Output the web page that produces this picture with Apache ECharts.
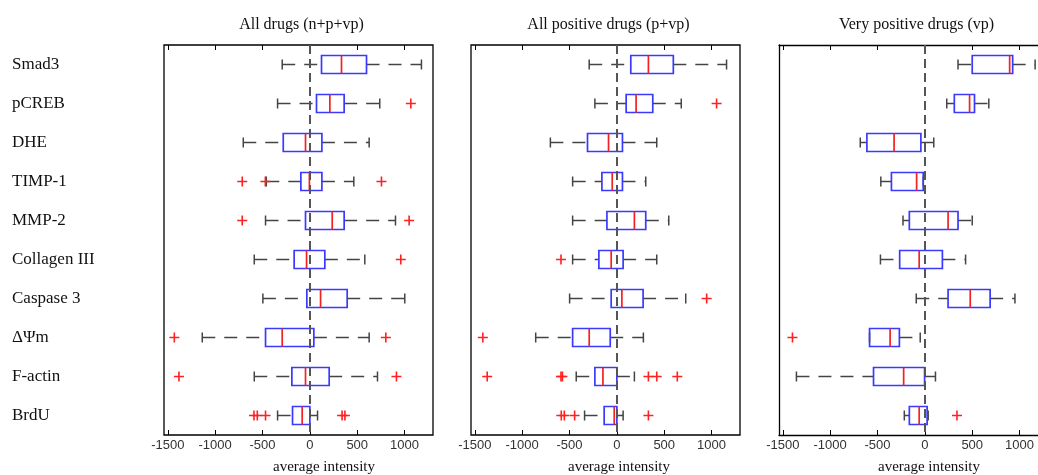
<!DOCTYPE html>
<html>
<head>
<meta charset="utf-8">
<script src="https://cdn.jsdelivr.net/npm/echarts@6/dist/echarts.min.js"></script>
<style>
html,body{margin:0;padding:0;background:#fff;}
#c{width:1038px;height:475px;}
</style>
</head>
<body>
<div id="c"></div>
<script>
// ---- data ----
const categories = ['Smad3','pCREB','DHE','TIMP-1','MMP-2','Collagen III','Caspase 3','ΔΨm','F-actin','BrdU'];
const panelTitles = ['All drugs (n+p+vp)','All positive drugs (p+vp)','Very positive drugs (vp)'];
const xTickValues = [-1500,-1000,-500,0,500,1000];
const xAxisName = 'average intensity';

// [lower whisker, Q1, median, Q3, upper whisker]
const statsAll = [
  [-292,123,334,598,1178],
  [-341,70,211,362,738],
  [-703,-281,-46,127,626],
  [-460,-95,-5,127,464],
  [-468,-46,236,362,904],
  [-587,-166,-35,158,580],
  [-496,-32,113,394,1002],
  [-1136,-468,-292,42,626],
  [-587,-190,-46,204,714],
  [-341,-183,-81,0,81]
];
const outliersAll = [
  ['pCREB',1066],['TIMP-1',-714],['TIMP-1',-470],['TIMP-1',756],
  ['MMP-2',-714],['MMP-2',1048],['Collagen III',960],
  ['ΔΨm',-1431],['ΔΨm',802],['F-actin',-1382],['F-actin',914],
  ['BrdU',-590],['BrdU',-555],['BrdU',-468],['BrdU',340],['BrdU',370]
];

const statsPos = [
  [-292,147,333,596,1158],
  [-232,98,203,379,680],
  [-702,-310,-88,59,421],
  [-467,-158,-49,59,305],
  [-467,-105,185,305,548],
  [-467,-190,-60,66,421],
  [-499,-60,53,277,727],
  [-857,-467,-292,-70,280],
  [-429,-232,-147,0,185],
  [-341,-134,-28,0,66]
];
const outliersPos = [
  ['pCREB',1053],['Collagen III',-590],['Caspase 3',948],['ΔΨm',-1415],
  ['F-actin',-1369],['F-actin',-590],['F-actin',-575],['F-actin',333],['F-actin',421],['F-actin',638],
  ['BrdU',-587],['BrdU',-555],['BrdU',-446],['BrdU',333]
];

const statsVeryPos = [
  [350,500,895,927,1164],
  [231,311,472,524,675],
  [-682,-612,-325,-42,94],
  [-465,-353,-87,-17,-17],
  [-231,-164,245,350,500],
  [-469,-266,-60,185,430],
  [-91,245,479,689,951],
  [-584,-584,-367,-269,-49],
  [-1356,-542,-224,-3,112],
  [-217,-164,-60,24,35]
];
const outliersVeryPos = [
  ['ΔΨm',-1398],['BrdU',339]
];

// ---- chart ----
const panels = [
  {stats: statsAll, outliers: outliersAll},
  {stats: statsPos, outliers: outliersPos},
  {stats: statsVeryPos, outliers: outliersVeryPos}
];
const gridLefts = [164, 471, 779];
const gridW = 269, gridTop = 45, gridH = 390;
const xMin = -1540, xMax = 1300;
// third panel is cut by the right edge of the picture: keep same scale, shorter visible range
const gridWidths = [gridW, gridW, 1038 - gridLefts[2]];
const xMaxes = gridWidths.map(w => xMin + (xMax - xMin) * w / gridW);

const BOX = '#3a3aff', MED = '#f22222', WHISK = '#444', OUT = '#ff2020';
const plusPath = 'path://M4.2,0H5.8V4.2H10V5.8H5.8V10H4.2V5.8H0V4.2H4.2Z';

function renderBox(params, api) {
  const cat = api.value(0);
  const wl = api.value(1), q1 = api.value(2), md = api.value(3), q3 = api.value(4), wh = api.value(5);
  const y = api.coord([0, cat])[1];
  const X = v => api.coord([v, cat])[0];
  const h = 9, ch = 5;
  const wStyle = {stroke: WHISK, lineWidth: 1.5, lineDash: [13, 9], fill: null};
  const cStyle = {stroke: WHISK, lineWidth: 1.5, fill: null};
  const children = [];
  if (X(q1) - X(wl) > 0.5) children.push({type:'line', shape:{x1:X(wl), y1:y, x2:X(q1), y2:y}, style: wStyle});
  if (X(wh) - X(q3) > 0.5) children.push({type:'line', shape:{x1:X(q3), y1:y, x2:X(wh), y2:y}, style: wStyle});
  children.push({type:'line', shape:{x1:X(wl), y1:y-ch, x2:X(wl), y2:y+ch}, style: cStyle});
  children.push({type:'line', shape:{x1:X(wh), y1:y-ch, x2:X(wh), y2:y+ch}, style: cStyle});
  children.push({type:'rect', shape:{x:X(q1), y:y-h, width:X(q3)-X(q1), height:2*h}, style:{stroke: BOX, lineWidth: 1.7, fill: null}});
  children.push({type:'line', shape:{x1:X(md), y1:y-h, x2:X(md), y2:y+h}, style:{stroke: MED, lineWidth: 1.7}});
  return {type:'group', children};
}

const frameLine = {show:true, onZero:false, lineStyle:{color:'#000', width:1.3}};
const grid = [], xAxis = [], yAxis = [], series = [], graphic = [];
panels.forEach((p, i) => {
  const last = i === 2;
  grid.push({left: gridLefts[i], top: gridTop, width: gridWidths[i], height: gridH,
    show: !last, borderColor: '#000', borderWidth: 1.3, backgroundColor: 'transparent', containLabel: false});
  xAxis.push({type:'value', gridIndex:i, min:xMin, max:xMaxes[i], position:'bottom',
    splitLine:{show:false}, axisLine: last ? frameLine : {show:false},
    axisTick:{show:true, inside:true, length:5, customValues: xTickValues, lineStyle:{color:'#000', width:1}},
    axisLabel:{show:true, customValues: xTickValues, formatter: v => String(v), margin:4, color:'#333',
      fontFamily:'Liberation Sans', fontSize:13}});
  xAxis.push({type:'value', gridIndex:i, min:xMin, max:xMaxes[i], position:'top',
    splitLine:{show:false}, axisLine: last ? frameLine : {show:false},
    axisTick:{show:true, inside:true, length:5, customValues: xTickValues, lineStyle:{color:'#000', width:1}},
    axisLabel:{show:false}});
  yAxis.push({type:'category', gridIndex:i, data: categories, inverse: true,
    axisLine: last ? frameLine : {show:false}, axisTick:{show:false}, splitLine:{show:false},
    axisLabel: i === 0 ? {show:true, align:'left', margin: gridLefts[0]-12, color:'#111',
      fontFamily:'Liberation Serif', fontSize:17} : {show:false}});
  series.push({type:'custom', xAxisIndex: 2*i, yAxisIndex: i,
    data: p.stats.map((s, k) => [k, ...s]),
    encode: {x:[1,2,3,4,5], y:0},
    renderItem: renderBox, z: 3, silent: true});
  series.push({type:'scatter', xAxisIndex: 2*i, yAxisIndex: i,
    data: p.outliers.map(o => [o[1], o[0]]),
    symbol: plusPath, symbolSize: 10, itemStyle:{color: OUT, opacity: 1}, z: 4, silent: true,
    markLine: {symbol:'none', silent:true, label:{show:false},
      lineStyle:{type:[9,5], color:'#555', width:2},
      emphasis:{disabled:true},
      data:[{xAxis:0}]}});
  graphic.push({type:'text', x: gridLefts[i] + gridW/2 + 3, y: 25,
    style:{text: panelTitles[i], font:'16px "Liberation Serif"', fill:'#111', align:'center', verticalAlign:'middle'}});
});
// x-axis names (centred slightly right of zero, as in reference)
[324, 619, 929].forEach(cx => {
  graphic.push({type:'text', x: cx, y: 467,
    style:{text: xAxisName, font:'15px "Liberation Serif"', fill:'#111', align:'center', verticalAlign:'middle'}});
});

const chart = echarts.init(document.getElementById('c'), null, {renderer:'canvas'});
chart.setOption({animation:false, grid, xAxis, yAxis, series, graphic});
</script>
</body>
</html>
